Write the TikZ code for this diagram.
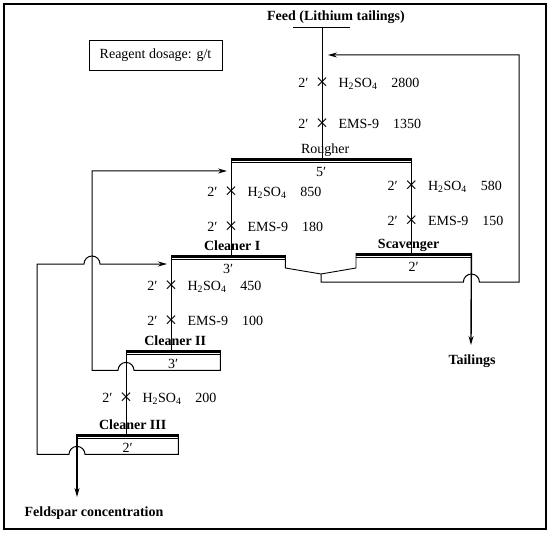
\documentclass[tikz,border=0pt]{standalone}
\usepackage{fontspec}
\setmainfont{Liberation Serif}
\usetikzlibrary{arrows.meta,positioning}

\begin{document}
\begin{tikzpicture}[
  x=1pt, y=-1pt,
  font=\fontsize{14}{16}\selectfont,
  label distance=1pt,
  cell/.style={anchor=north west, minimum height=20pt, inner sep=0pt, text height=17pt, text depth=0pt},
  lbl/.style={inner sep=0pt, text depth=3pt},
  head/.style={font=\fontsize{14}{16}\selectfont\bfseries},
  dose/.style={inner sep=0pt, text height=9pt, text depth=2pt},
  cross/.style={inner sep=0pt, font=\fontsize{22}{22}\selectfont},
  flow/.style={line width=0.9pt},
  arrow/.style={-{Stealth[length=9pt, width=5pt]}, line width=1pt},
  prod/.style={-{Stealth[length=9pt, width=5pt]}, line width=1.4pt}
]
\useasboundingbox (0,0) rectangle (550,535);
\draw[line width=1.3pt] (4,4) rectangle (546,529);

\node[draw, line width=0.9pt, minimum width=133pt, minimum height=30pt] (dosage) at (155.5,55) {Reagent dosage: g/t};
\node[head] (feed) at (336,17) {Feed (Lithium tailings)};
\node[head] (tailings) at (472,361) {Tailings};
\node[head] (feldspar) at (94,513) {Feldspar concentration};

% flotation cells
\node[cell, minimum width=180pt, label={[lbl, name=rougherlbl, xshift=4pt]above:Rougher}] (rougher) at (231,158) {5′};
\node[cell, minimum width=114pt, label={[lbl, head, name=cleanerIlbl, xshift=4pt]above:Cleaner I}] (cleanerI) at (171,255) {3′};
\node[cell, minimum width=115pt, label={[lbl, head, name=scavengerlbl, xshift=-5pt]above:Scavenger}] (scavenger) at (356,253) {2′};
\node[cell, minimum width=94pt, label={[lbl, head, name=cleanerIIlbl, xshift=2pt]above:Cleaner II}] (cleanerII) at (126,350) {3′};
\node[cell, minimum width=101pt, label={[lbl, head, name=cleanerIIIlbl, xshift=5pt]above:Cleaner III}] (cleanerIII) at (77,434) {2′};

\foreach \cel in {rougher,cleanerI,scavenger,cleanerII,cleanerIII} {
  \fill (\cel.north west) rectangle ([yshift=-3pt]\cel.north east);
  \draw[line width=0.9pt] ([yshift=-4.6pt]\cel.north west) -- ([yshift=-4.6pt]\cel.north east);
}

\coordinate (feedin) at (322,27);
\coordinate (vjoin) at (321,274);
\coordinate (ret) at (519,55);
\coordinate (ret2) at (92,171);
\coordinate (ret3) at (37,264);
\coordinate (tail) at (471,345);
\coordinate (conc) at (77,497);

% reagents
\node[cross] (x1) at (feedin |- 0,84) {×};
\node[dose, left=7pt of x1] (t1) {2′};
\node[dose, right=10pt of x1] (r1) {H\textsubscript{2}SO\textsubscript{4}\quad 2800};
\node[cross] (x2) at (feedin |- 0,125) {×};
\node[dose, left=7pt of x2] (t2) {2′};
\node[dose, right=10pt of x2] (r2) {EMS-9\quad 1350};
\node[cross] (x3) at (rougher.north west |- 0,193) {×};
\node[dose, left=7pt of x3] (t3) {2′};
\node[dose, right=10pt of x3] (r3) {H\textsubscript{2}SO\textsubscript{4}\quad 850};
\node[cross] (x4) at (rougher.north west |- 0,228) {×};
\node[dose, left=7pt of x4] (t4) {2′};
\node[dose, right=10pt of x4] (r4) {EMS-9\quad 180};
\node[cross] (x5) at (rougher.north east |- 0,187) {×};
\node[dose, left=7pt of x5] (t5) {2′};
\node[dose, right=10pt of x5] (r5) {H\textsubscript{2}SO\textsubscript{4}\quad 580};
\node[cross] (x6) at (rougher.north east |- 0,222) {×};
\node[dose, left=7pt of x6] (t6) {2′};
\node[dose, right=10pt of x6] (r6) {EMS-9\quad 150};
\node[cross] (x7) at (cleanerI.north west |- 0,287) {×};
\node[dose, left=7pt of x7] (t7) {2′};
\node[dose, right=10pt of x7] (r7) {H\textsubscript{2}SO\textsubscript{4}\quad 450};
\node[cross] (x8) at (cleanerI.north west |- 0,322) {×};
\node[dose, left=7pt of x8] (t8) {2′};
\node[dose, right=10pt of x8] (r8) {EMS-9\quad 100};
\node[cross] (x9) at (cleanerII.north west |- 0,399) {×};
\node[dose, left=7pt of x9] (t9) {2′};
\node[dose, right=10pt of x9] (r9) {H\textsubscript{2}SO\textsubscript{4}\quad 200};

% main flow
\draw[flow] ([xshift=-29pt]feedin) -- ([xshift=28pt]feedin);
\draw[flow] (feedin) -- (feedin |- rougher.north);
\draw[flow] (rougher.north west) -- (rougher.north west |- cleanerI.north);
\draw[flow] (rougher.north east) -- (rougher.north east |- scavenger.north);
\draw[flow] (cleanerI.north west) -- (cleanerI.north west |- cleanerII.north);
\draw[flow] (cleanerII.north west) -- (cleanerII.north west |- cleanerIII.north);
\draw[prod] (cleanerIII.north west) -- (conc);
\draw[prod] (scavenger.north east) -- (tail);

% middlings
\draw[flow] (cleanerI.north east) -- ++(0,13) -- (vjoin);
\draw[flow] (scavenger.north west) -- ++(0,15) -- (vjoin);
\draw[flow, arrow, shorten >=6pt] (vjoin) -- ++(0,8) coordinate (vbot)
  -- ([xshift=-8pt]vbot -| scavenger.north east) arc[start angle=180, end angle=0, radius=8pt]
  -- (vbot -| ret) -- (ret) -- (ret -| feedin);
\draw[flow, arrow, shorten >=4pt] (cleanerII.north east) -- (cleanerII.south east)
  -- ([xshift=8pt]cleanerII.south west) arc[start angle=0, end angle=180, radius=8pt]
  -- (cleanerII.south west -| ret2) -- (ret2) -- (ret2 -| rougher.north west);
\draw[flow, arrow, shorten >=4pt] (cleanerIII.north east) -- (cleanerIII.south east)
  -- ([xshift=8pt]cleanerIII.south west) arc[start angle=0, end angle=180, radius=8pt]
  -- (cleanerIII.south west -| ret3) -- (ret3)
  -- ([xshift=-8pt]ret3 -| ret2) arc[start angle=180, end angle=0, radius=8pt]
  -- (ret3 -| cleanerI.north west);
\end{tikzpicture}
\end{document}
